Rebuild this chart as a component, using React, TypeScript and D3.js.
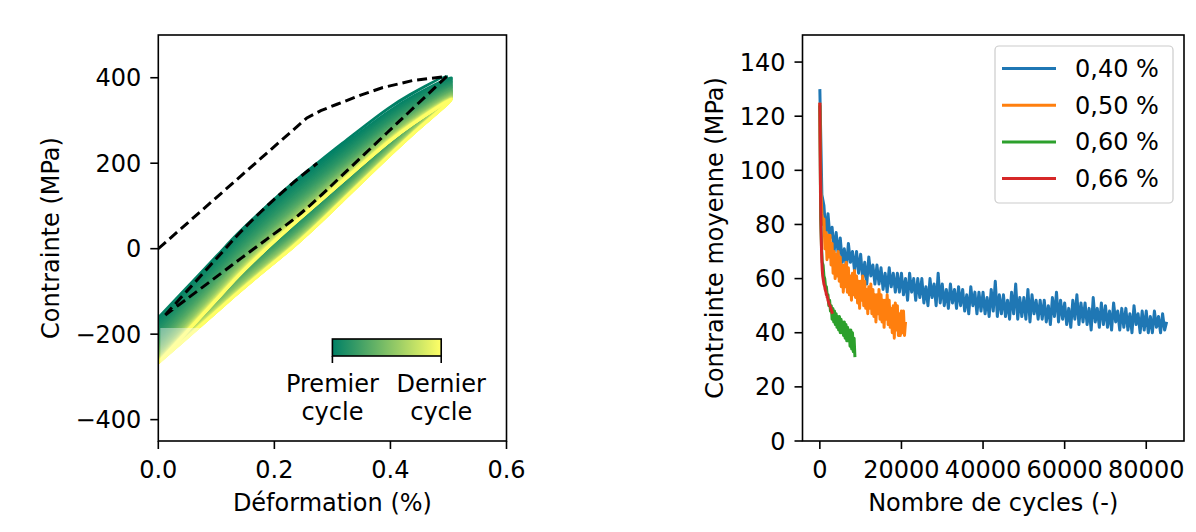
import React from "react";
import * as d3 from "d3";

const W = 1196;
const H = 532;
const FONT = "DejaVu Sans, sans-serif";
const FS = 24;

// ---------------- Left panel data ----------------
const strainTicks = [0, 0.2, 0.4, 0.6];
const stressTicks = [-400, -200, 0, 200, 400];
// first monotonic loading (dashed)
const firstLoadStrain = [0, 0.256, 0.28, 0.308, 0.35, 0.387, 0.44, 0.497];
const firstLoadStress = [0, 306, 323, 338, 360, 377, 394, 403];
// normalized hysteresis loop shape read from the first cycle
const loopT = [0, 0.08, 0.2, 0.27, 0.36, 0.46, 0.54, 0.63, 0.79, 0.87, 1];
const loopUpper = [0, 0.104, 0.26, 0.351, 0.455, 0.56, 0.636, 0.72, 0.864, 0.924, 1];
const loopLower = [0, 0.07, 0.176, 0.238, 0.317, 0.405, 0.487, 0.587, 0.766, 0.855, 1];
const firstCycleStrain = [0.012, 0.497];
const laterCycleStrain = [0.0, 0.505];
// per drawn cycle: mean stress, stress amplitude, loop opening
const cycleMean = [
  124, 119, 114.5, 110, 106, 102, 98.5, 95, 92, 89, 86, 83.5, 81, 78.5, 76, 74, 72, 70, 68, 66.5,
  65, 63.5, 62, 60.5, 59, 57.5, 56, 54.5, 53.5, 52.5, 51.5, 50.5,
  49.5, 48.7, 48, 47.3, 46.6, 46, 45.4, 44.8, 44.3, 43.8, 43.3, 42.9, 42.5, 42.1, 41.8, 41.5, 41.2, 41,
];
const cycleAmp = [
  279, 281, 283, 285, 286, 288, 289, 290, 291, 292, 293, 294, 295, 296, 297, 297, 298, 299, 299, 300,
  300, 301, 301, 302, 302, 303, 303, 304, 304, 304, 305, 305,
  305, 306, 306, 306, 306, 307, 307, 307, 307, 307, 307, 308, 308, 308, 308, 308, 308, 308,
];
const cycleOpen = [
  1, 0.96, 0.93, 0.9, 0.87, 0.85, 0.83, 0.81, 0.79, 0.77, 0.76, 0.74, 0.73, 0.72, 0.71, 0.7, 0.69, 0.68, 0.67, 0.66,
  0.66, 0.65, 0.64, 0.64, 0.63, 0.63, 0.62, 0.62, 0.61, 0.61, 0.6, 0.6,
  0.6, 0.59, 0.59, 0.59, 0.58, 0.58, 0.58, 0.57, 0.57, 0.57, 0.56, 0.56, 0.56, 0.56, 0.55, 0.55, 0.55, 0.55,
];
const reloadDashedMaxT = 0.54;
const colorbarLabels = [["Premier", "cycle"], ["Dernier", "cycle"]];

// ---------------- Right panel data ----------------
const cycleTicks = [0, 20000, 40000, 60000, 80000];
const meanTicks = [0, 20, 40, 60, 80, 100, 120, 140];
const seriesLabels = ["0,40 %", "0,50 %", "0,60 %", "0,66 %"];
const seriesColors = ["#1f77b4", "#ff7f0e", "#2ca02c", "#d62728"];
const seriesStep = [500, 250, 200, 100];
const stress040 = [
  130, 91, 87, 76, 84, 75, 79, 70, 77, 69,
  75, 66, 71, 64, 73, 66, 70, 63, 70, 62,
  69, 60, 66, 58, 68, 61, 65, 58, 65, 58,
  64, 56, 62, 55, 64, 57, 62, 55, 62, 55,
  62, 54, 60, 52, 62, 55, 60, 52, 60, 53,
  60, 51, 57, 50, 60, 53, 58, 50, 62, 51,
  58, 50, 56, 49, 58, 51, 56, 49, 57, 50,
  56, 48, 54, 47, 57, 50, 55, 47, 55, 48,
  55, 47, 53, 46, 56, 48, 59, 46, 54, 47,
  54, 46, 52, 45, 55, 47, 58, 45, 53, 46,
  53, 45, 56, 44, 54, 47, 52, 45, 52, 45,
  52, 44, 50, 43, 53, 46, 55, 44, 52, 45,
  51, 43, 49, 42, 52, 45, 54, 43, 51, 44,
  51, 43, 49, 41, 53, 44, 49, 42, 51, 43,
  50, 42, 48, 41, 51, 44, 48, 41, 49, 42,
  49, 41, 47, 40, 50, 43, 47, 40, 48, 41,
  48, 40, 46, 40, 48, 42, 46, 40, 47, 41,
  44,
];
const stress050 = [
  125, 92, 84, 80, 82, 71, 77, 67, 76, 68,
  76, 65, 73, 62, 70, 60, 69, 61, 70, 59,
  68, 57, 65, 55, 65, 57, 66, 55, 64, 54,
  61, 52, 62, 54, 63, 53, 61, 51, 59, 49,
  59, 52, 61, 50, 59, 49, 56, 47, 57, 49,
  58, 47, 56, 46, 54, 44, 54, 47, 56, 45,
  54, 44, 52, 42, 52, 45, 54, 43, 52, 42,
  49, 40, 50, 38, 51, 41, 50, 39, 47, 39,
  48, 40, 48, 39, 44,
];
const stress060 = [
  124, 82, 72, 66, 65, 61, 60, 57, 57, 54,
  54, 50, 52, 48, 50, 45, 49, 44, 48, 43,
  47, 42, 46, 41, 46, 40, 45, 40, 44, 39,
  44, 38, 43, 37, 42, 37, 41, 35, 41, 34,
  40, 33, 38, 31,
];
const stress066 = [
  125, 102, 88, 78, 71, 66, 63, 61, 60, 59,
  58, 57.5, 57, 56, 55.5, 55, 54, 54, 53, 53,
  52, 51.5, 51, 50.5, 50, 50, 49.5, 49, 48.5, 48,
  47.5, 47,
];
const seriesValues = [stress040, stress050, stress060, stress066];

// ---------------- Layout ----------------
const L = { left: 158.3, right: 506.5, top: 35, bottom: 441 };
const R = { left: 802.5, right: 1184, top: 35, bottom: 441 };
const TICK = 8;

export default function App() {
  const xL = d3.scaleLinear().domain([0, 0.6]).range([L.left, L.right]);
  const yL = d3.scaleLinear().domain([-450, 500]).range([L.bottom, L.top]);
  const xR = d3.scaleLinear().domain([-4250, 89250]).range([R.left, R.right]);
  const yR = d3.scaleLinear().domain([0, 150]).range([R.bottom, R.top]);

  const summer = d3.interpolateRgb("#008066", "#ffff66");
  const n = cycleMean.length;

  const loopLine = d3
    .line<[number, number]>()
    .x((d) => xL(d[0]))
    .y((d) => yL(d[1]))
    .curve(d3.curveCatmullRom.alpha(0.5));
  const straightLine = d3
    .line<[number, number]>()
    .x((d) => xL(d[0]))
    .y((d) => yL(d[1]));

  const branches = (k: number) => {
    const [e0, e1] = k === 0 ? firstCycleStrain : laterCycleStrain;
    const smin = cycleMean[k] - cycleAmp[k];
    const smax = cycleMean[k] + cycleAmp[k];
    const w = cycleOpen[k];
    const up: [number, number][] = [];
    const lo: [number, number][] = [];
    loopT.forEach((t, j) => {
      const c = (loopUpper[j] + loopLower[j]) / 2;
      const h = (loopUpper[j] - loopLower[j]) / 2;
      up.push([e0 + t * (e1 - e0), smin + (c + w * h) * (smax - smin)]);
      lo.push([e0 + t * (e1 - e0), smin + (c - w * h) * (smax - smin)]);
    });
    return { up, lo };
  };

  const loops = cycleMean.map((_, k) => {
    const { up, lo } = branches(k);
    const pts = [...up, ...lo.slice().reverse().slice(1)];
    return { d: loopLine(pts) || "", color: summer(k / (n - 1)) };
  });

  const first = branches(0);
  const loadPts: [number, number][] = firstLoadStrain.map((e, i) => [e, firstLoadStress[i]]);
  const unloadPts = first.lo.slice().reverse();
  const reloadPts = first.up.filter((_, j) => loopT[j] <= reloadDashedMaxT);
  const dashedD =
    (straightLine(loadPts) || "") + (loopLine(unloadPts) || "") + (loopLine(reloadPts) || "");

  const seriesPaths = seriesValues.map((vals, s) => {
    const g = d3
      .line<number>()
      .x((_, i) => xR(i * seriesStep[s]))
      .y((v) => yR(v));
    return g(vals) || "";
  });

  const cbX0 = xL(0.3);
  const cbX1 = xL(0.4875);
  const cbY0 = 339;
  const cbY1 = 356;

  const textStyle: React.CSSProperties = { fontFamily: FONT, fontSize: FS, fill: "#000" };

  return (
    <svg
      width={W}
      height={H}
      viewBox={`0 0 ${W} ${H}`}
      style={{ position: "absolute", left: 0, top: 0, background: "#fff" }}
    >
      <defs>
        <clipPath id="clipL">
          <rect x={L.left} y={L.top} width={L.right - L.left} height={L.bottom - L.top} />
        </clipPath>
        <clipPath id="clipR">
          <rect x={R.left} y={R.top} width={R.right - R.left} height={R.bottom - R.top} />
        </clipPath>
        <linearGradient id="summer" x1="0" x2="1" y1="0" y2="0">
          {d3.range(0, 1.0001, 0.1).map((t) => (
            <stop key={t} offset={t} stopColor={summer(t)} />
          ))}
        </linearGradient>
      </defs>
      <rect x={0} y={0} width={W} height={H} fill="#fff" />

      {/* ---------- Left panel ---------- */}
      <g clipPath="url(#clipL)">
        {loops.map((l, k) => (
          <path key={k} d={l.d} fill="none" stroke={l.color} strokeWidth={3} strokeLinejoin="round" />
        ))}
        <path d={dashedD} fill="none" stroke="#000" strokeWidth={3} strokeDasharray="10,5" />
        <rect x={L.left + 2} y={328} width={487 - L.left - 2} height={L.bottom - 328 - 2} fill="#fff" opacity={0.4} />
      </g>
      <rect x={cbX0} y={cbY0} width={cbX1 - cbX0} height={cbY1 - cbY0} fill="url(#summer)" stroke="#000" strokeWidth={1.6} />
      {[cbX0, cbX1].map((x, i) => (
        <g key={i}>
          <line x1={x} x2={x} y1={cbY1} y2={cbY1 + 7} stroke="#000" strokeWidth={1.6} />
          <text x={x} y={392} textAnchor="middle" style={textStyle}>{colorbarLabels[i][0]}</text>
          <text x={x} y={420} textAnchor="middle" style={textStyle}>{colorbarLabels[i][1]}</text>
        </g>
      ))}
      <rect x={L.left} y={L.top} width={L.right - L.left} height={L.bottom - L.top} fill="none" stroke="#000" strokeWidth={1.6} />
      {strainTicks.map((t) => (
        <g key={t}>
          <line x1={xL(t)} x2={xL(t)} y1={L.bottom} y2={L.bottom + TICK} stroke="#000" strokeWidth={1.6} />
          <text x={xL(t)} y={478} textAnchor="middle" style={textStyle}>{t.toFixed(1)}</text>
        </g>
      ))}
      {stressTicks.map((t) => (
        <g key={t}>
          <line x1={L.left - TICK} x2={L.left} y1={yL(t)} y2={yL(t)} stroke="#000" strokeWidth={1.6} />
          <text x={L.left - 17} y={yL(t) + 8.5} textAnchor="end" style={textStyle}>
            {t < 0 ? "\u2212" + Math.abs(t) : String(t)}
          </text>
        </g>
      ))}
      <text x={(L.left + L.right) / 2} y={511} textAnchor="middle" style={textStyle}>Déformation (%)</text>
      <text
        transform={`translate(59, ${(L.top + L.bottom) / 2}) rotate(-90)`}
        textAnchor="middle"
        style={textStyle}
      >
        Contrainte (MPa)
      </text>

      {/* ---------- Right panel ---------- */}
      <g clipPath="url(#clipR)">
        {seriesPaths.map((d, s) => (
          <path key={s} d={d} fill="none" stroke={seriesColors[s]} strokeWidth={3} strokeLinejoin="round" />
        ))}
      </g>
      <rect x={R.left} y={R.top} width={R.right - R.left} height={R.bottom - R.top} fill="none" stroke="#000" strokeWidth={1.6} />
      {cycleTicks.map((t) => (
        <g key={t}>
          <line x1={xR(t)} x2={xR(t)} y1={R.bottom} y2={R.bottom + TICK} stroke="#000" strokeWidth={1.6} />
          <text x={xR(t)} y={478} textAnchor="middle" style={textStyle}>{String(t)}</text>
        </g>
      ))}
      {meanTicks.map((t) => (
        <g key={t}>
          <line x1={R.left - TICK} x2={R.left} y1={yR(t)} y2={yR(t)} stroke="#000" strokeWidth={1.6} />
          <text x={R.left - 17} y={yR(t) + 8.5} textAnchor="end" style={textStyle}>{String(t)}</text>
        </g>
      ))}
      <text x={(R.left + R.right) / 2} y={511} textAnchor="middle" style={textStyle}>Nombre de cycles (-)</text>
      <text
        transform={`translate(723, ${(R.top + R.bottom) / 2}) rotate(-90)`}
        textAnchor="middle"
        style={textStyle}
      >
        Contrainte moyenne (MPa)
      </text>

      {/* legend */}
      <rect x={995} y={46} width={178} height={157} rx={4} ry={4} fill="#fff" fillOpacity={0.8} stroke="#cccccc" strokeWidth={1.2} />
      {seriesLabels.map((lab, i) => {
        const yy = 68.5 + i * 36.7;
        return (
          <g key={lab}>
            <line x1={1002} x2={1056} y1={yy} y2={yy} stroke={seriesColors[i]} strokeWidth={3} />
            <text x={1075} y={yy + 8.5} style={textStyle}>{lab}</text>
          </g>
        );
      })}
    </svg>
  );
}
